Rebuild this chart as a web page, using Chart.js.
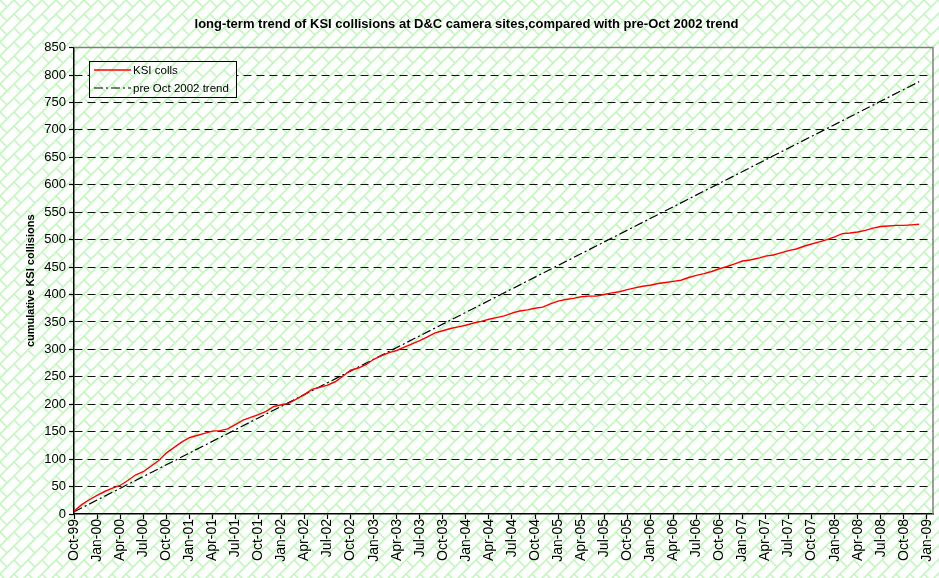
<!DOCTYPE html>
<html>
<head>
<meta charset="utf-8">
<script src="https://cdn.jsdelivr.net/npm/chart.js@4.4.0/dist/chart.umd.min.js"></script>
<style>
  html, body { margin: 0; padding: 0; background: #fff; }
  #wrap { width: 939px; height: 578px; position: relative; }
</style>
</head>
<body>
<div id="wrap"><canvas id="ksiChart"></canvas></div>
<script>
// month labels, Oct-99 .. Jan-09 (index = month number on the x axis)
const months = [
  "Oct-99", "Nov-99", "Dec-99",
  "Jan-00", "Feb-00", "Mar-00", "Apr-00", "May-00", "Jun-00", "Jul-00", "Aug-00", "Sep-00", "Oct-00", "Nov-00", "Dec-00",
  "Jan-01", "Feb-01", "Mar-01", "Apr-01", "May-01", "Jun-01", "Jul-01", "Aug-01", "Sep-01", "Oct-01", "Nov-01", "Dec-01",
  "Jan-02", "Feb-02", "Mar-02", "Apr-02", "May-02", "Jun-02", "Jul-02", "Aug-02", "Sep-02", "Oct-02", "Nov-02", "Dec-02",
  "Jan-03", "Feb-03", "Mar-03", "Apr-03", "May-03", "Jun-03", "Jul-03", "Aug-03", "Sep-03", "Oct-03", "Nov-03", "Dec-03",
  "Jan-04", "Feb-04", "Mar-04", "Apr-04", "May-04", "Jun-04", "Jul-04", "Aug-04", "Sep-04", "Oct-04", "Nov-04", "Dec-04",
  "Jan-05", "Feb-05", "Mar-05", "Apr-05", "May-05", "Jun-05", "Jul-05", "Aug-05", "Sep-05", "Oct-05", "Nov-05", "Dec-05",
  "Jan-06", "Feb-06", "Mar-06", "Apr-06", "May-06", "Jun-06", "Jul-06", "Aug-06", "Sep-06", "Oct-06", "Nov-06", "Dec-06",
  "Jan-07", "Feb-07", "Mar-07", "Apr-07", "May-07", "Jun-07", "Jul-07", "Aug-07", "Sep-07", "Oct-07", "Nov-07", "Dec-07",
  "Jan-08", "Feb-08", "Mar-08", "Apr-08", "May-08", "Jun-08", "Jul-08", "Aug-08", "Sep-08", "Oct-08", "Nov-08", "Dec-08",
  "Jan-09"
];

// cumulative KSI collisions, one per month from Oct-99
const ksiColls = [
  5, 17, 26,
  34, 41, 47, 52, 61, 71, 77, 87, 97, 111, 121, 131,
  139, 143, 147, 151, 152, 155, 163, 171, 176, 181, 187, 196,
  199, 202, 210, 218, 227, 231, 235, 241, 251, 262, 266, 272,
  282, 288, 294, 298, 304, 310, 316, 323, 330, 334, 338, 341,
  344, 348, 351, 355, 358, 361, 366, 370, 372, 375, 377, 383,
  388, 391, 393, 396, 397, 397, 400, 403, 405, 409, 412, 415,
  417, 420, 422, 424, 426, 431, 435, 438, 442, 447, 451, 456,
  461, 463, 466, 470, 472, 476, 480, 483, 488, 492, 496, 500,
  505, 511, 512, 514, 517, 521, 524, 525, 526, 526, 527, 528
];

// straight pre-Oct 2002 trend line: end points
const trendMonths = ["Oct-99", "Dec-08"];
const trendValues = [4, 788];

const FONT = 'Arial, "Liberation Sans", sans-serif';

// light green diagonal brick fill, like the excel pattern
function makeBrick() {
  const T = 28, H = T / 2;
  const c = document.createElement("canvas");
  c.width = T; c.height = T;
  const g = c.getContext("2d");
  g.fillStyle = "#fff";
  g.fillRect(0, 0, T, T);
  g.strokeStyle = "#c2f7bd";
  g.lineWidth = 1.6;
  g.beginPath();
  for (let k = -5; k <= 8; k++) {
    const s = k * H;
    g.moveTo(s + 2 * T, -2 * T);
    g.lineTo(s - 2 * T, 2 * T);
    for (let m = -5; m <= 5; m++) {
      const d = m * T + (Math.abs(k) % 2 ? H : 0);
      g.moveTo((s + d) / 2, (s - d) / 2);
      g.lineTo((s + H + d) / 2, (s + H - d) / 2);
    }
  }
  g.stroke();
  return c;
}
const brick = document.getElementById("ksiChart").getContext("2d").createPattern(makeBrick(), "repeat");

const bgPlugin = {
  id: "bg",
  beforeDraw(chart) {
    const ctx = chart.ctx;
    ctx.save();
    ctx.fillStyle = brick;
    ctx.fillRect(0, 0, chart.width, chart.height);
    ctx.restore();
  },
  beforeDatasetsDraw(chart) {
    const a = chart.chartArea, ctx = chart.ctx;
    ctx.save();
    ctx.strokeStyle = "#808080";
    ctx.lineWidth = 1.5;
    ctx.beginPath();
    ctx.moveTo(a.left, a.top);
    ctx.lineTo(a.right, a.top);
    ctx.lineTo(a.right, a.bottom);
    ctx.stroke();
    ctx.restore();
  }
};

const legendPlugin = {
  id: "boxLegend",
  afterDraw(chart) {
    const ctx = chart.ctx;
    const x = 89.5, y = 61.5, w = 147, h = 36;
    ctx.save();
    ctx.fillStyle = brick;
    ctx.fillRect(x, y, w, h);
    ctx.strokeStyle = "#000";
    ctx.lineWidth = 1;
    ctx.strokeRect(x, y, w, h);
    ctx.font = "11.5px " + FONT;
    ctx.textBaseline = "middle";
    chart.data.datasets.forEach((ds, i) => {
      const ly = 70 + i * 18;
      ctx.strokeStyle = ds.borderColor;
      ctx.lineWidth = ds.borderWidth;
      ctx.setLineDash(ds.borderDash || []);
      ctx.beginPath();
      ctx.moveTo(94, ly);
      ctx.lineTo(131, ly);
      ctx.stroke();
      ctx.setLineDash([]);
      ctx.fillStyle = "#000";
      ctx.fillText(ds.label, 133, ly + 0.5);
    });
    ctx.restore();
  }
};

new Chart(document.getElementById("ksiChart"), {
  type: "line",
  data: {
    datasets: [
      {
        label: "KSI colls",
        data: ksiColls.map((v, i) => ({ x: i, y: v })),
        borderColor: "#ff0000",
        borderWidth: 1.4,
        pointRadius: 0,
        fill: false
      },
      {
        label: "pre Oct 2002 trend",
        data: trendMonths.map((m, i) => ({ x: months.indexOf(m), y: trendValues[i] })),
        borderColor: "#000000",
        borderWidth: 1.2,
        borderDash: [9, 3, 2, 3],
        pointRadius: 0,
        fill: false
      }
    ]
  },
  options: {
    responsive: true,
    maintainAspectRatio: false,
    animation: false,
    layout: { padding: { left: 0, right: 6, top: 0, bottom: 0 } },
    plugins: {
      legend: { display: false },
      tooltip: { enabled: false },
      title: {
        display: true,
        text: "long-term trend of KSI collisions at D&C camera sites,compared with pre-Oct 2002 trend",
        color: "#000",
        font: { family: FONT, size: 13, weight: "bold" },
        padding: { top: 17, bottom: 15 }
      }
    },
    scales: {
      x: {
        type: "linear",
        min: 0,
        max: 111.8,
        afterBuildTicks: s => {
          s.ticks = months.map((m, i) => ({ value: i })).filter(t => t.value % 3 === 0);
        },
        afterFit: s => {
          s.height = 64;
          s.paddingLeft = 0;
          s.paddingRight = 0;
        },
        ticks: {
          autoSkip: false,
          maxRotation: 90,
          minRotation: 90,
          padding: 0,
          color: "#000",
          font: { family: FONT, size: 14 },
          callback: v => months[v]
        },
        grid: { drawOnChartArea: false, drawTicks: true, tickLength: 5, tickColor: "#000", tickWidth: 1.2 },
        border: { color: "#000", width: 1.5 }
      },
      y: {
        min: 0,
        max: 850,
        afterFit: s => { s.width = 74; },
        ticks: {
          stepSize: 50,
          padding: 3,
          color: "#000",
          font: { family: FONT, size: 13 }
        },
        grid: {
          color: c => (c.tick && (c.tick.value === 0 || c.tick.value === 850)) ? "rgba(0,0,0,0)" : "#111",
          lineWidth: 1,
          tickLength: 5,
          tickColor: "#000",
          tickWidth: 1.2
        },
        border: { color: "#000", width: 1.5, dash: [8, 5] },
        title: {
          display: true,
          text: "cumulative KSI collisions",
          color: "#000",
          font: { family: FONT, size: 11, weight: "bold" },
          padding: { top: 24, bottom: 0 }
        }
      }
    }
  },
  plugins: [bgPlugin, legendPlugin]
});
</script>
</body>
</html>
